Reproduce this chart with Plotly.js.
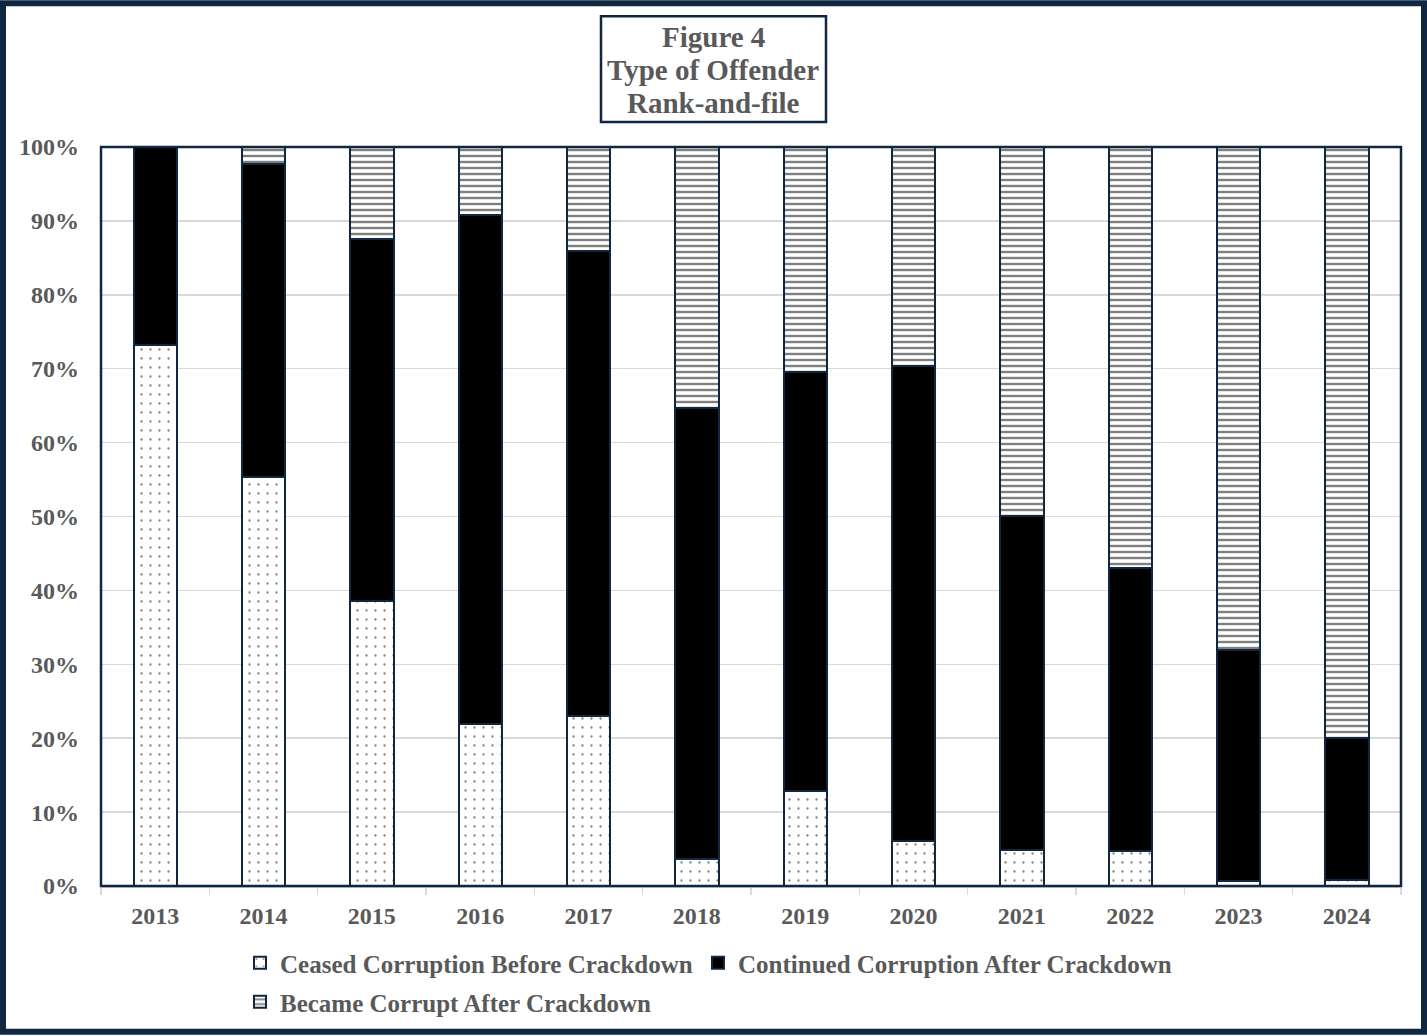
<!DOCTYPE html>
<html>
<head>
<meta charset="utf-8">
<script src="https://cdn.plot.ly/plotly-3.0.1.min.js"></script>
<style>
  html, body { margin: 0; padding: 0; background: #ffffff; }
  #chart { width: 1427px; height: 1036px; }
</style>
</head>
<body>
<div id="chart"></div>
<script>
const years = ['2013','2014','2015','2016','2017','2018','2019','2020','2021','2022','2023','2024'];
const ceased    = [0.732, 0.553, 0.386, 0.219, 0.230, 0.036, 0.128, 0.061, 0.049, 0.047, 0.007, 0.008];
const continued = [0.268, 0.424, 0.490, 0.689, 0.629, 0.611, 0.568, 0.643, 0.452, 0.383, 0.313, 0.192];
const became    = [0.000, 0.023, 0.124, 0.092, 0.141, 0.353, 0.304, 0.296, 0.499, 0.570, 0.680, 0.800];

const seriesNames = ['Ceased Corruption Before Crackdown', 'Continued Corruption After Crackdown', 'Became Corrupt After Crackdown'];
const titleLines = ['Figure 4', 'Type of Offender', 'Rank-and-file'];

const NAVY = '#0f2740';
const GRAY_TEXT = '#595959';
const FONT = 'Liberation Serif, Times New Roman, serif';

const lineStyle = { color: NAVY, width: 2 };

const traces = [
  {
    type: 'bar', x: years, y: ceased, name: seriesNames[0], legend: 'legend',
    marker: { color: '#ffffff', line: lineStyle,
      pattern: { shape: '.', fgcolor: '#000000', bgcolor: '#ffffff', size: 9, solidity: 0.05, fillmode: 'overlay' } },
    hoverinfo: 'skip'
  },
  {
    type: 'bar', x: years, y: continued, name: seriesNames[1], legend: 'legend2',
    marker: { color: '#000000', line: lineStyle },
    hoverinfo: 'skip'
  },
  {
    type: 'bar', x: years, y: became, name: seriesNames[2], legend: 'legend3',
    marker: { color: '#ffffff', line: lineStyle,
      pattern: { shape: '-', fgcolor: '#000000', bgcolor: '#ffffff', size: 6, solidity: 0.4, fillmode: 'overlay' } },
    hoverinfo: 'skip'
  }
];

// plot area in pixels: left 101, right 1401, top 147, bottom 887
const W = 1427, H = 1036, L = 101, R = 1401, T = 147, B = 887;
const px = v => (v - L) / (R - L);
const py = v => (B - v) / (B - T);

const legendFont = { family: FONT, size: 25, color: GRAY_TEXT, weight: 'bold' };
const legendBase = { orientation: 'h', font: legendFont, bgcolor: 'rgba(0,0,0,0)', xanchor: 'left', yanchor: 'middle', itemclick: false, itemdoubleclick: false };

const titleY = [37, 70, 103];
const titleAnnotations = titleLines.map((t, i) => ({
  xref: 'paper', yref: 'paper',
  x: px(713), y: py(titleY[i]), xanchor: 'center', yanchor: 'middle',
  text: t, showarrow: false,
  font: { family: FONT, size: 29, color: GRAY_TEXT, weight: 'bold' }
}));

const layout = {
  width: W, height: H,
  margin: { l: L, r: W - R, t: T, b: H - B, pad: 0 },
  paper_bgcolor: '#ffffff',
  plot_bgcolor: '#ffffff',
  barmode: 'stack',
  bargap: 0.6,
  font: { family: FONT, color: GRAY_TEXT },
  xaxis: {
    type: 'category',
    tickfont: { family: FONT, size: 24, color: GRAY_TEXT, weight: 'bold' },
    ticks: 'outside', tickson: 'boundaries', ticklen: 7, tickcolor: '#d9d9d9', tickwidth: 1.5,
    showline: true, linecolor: '#d9d9d9', linewidth: 1.5,
    showgrid: false, zeroline: false,
    ticklabelstandoff: 8
  },
  yaxis: {
    range: [0, 1], dtick: 0.1, tick0: 0, tickformat: '.0%',
    tickfont: { family: FONT, size: 24, color: GRAY_TEXT, weight: 'bold' },
    showgrid: true, gridcolor: '#d9d9d9', gridwidth: 1.5,
    zeroline: false, showline: false, ticks: '',
    ticklabelstandoff: 21
  },
  showlegend: true,
  legend:  Object.assign({}, legendBase, { x: px(240), y: py(963) }),
  legend2: Object.assign({}, legendBase, { x: px(698), y: py(963) }),
  legend3: Object.assign({}, legendBase, { x: px(240), y: py(1002) }),
  annotations: titleAnnotations,
  shapes: [
    { type: 'rect', xref: 'paper', yref: 'paper', x0: 0, x1: 1, y0: 0, y1: 1,
      line: { color: NAVY, width: 2.5 }, fillcolor: 'rgba(0,0,0,0)', layer: 'above' },
    { type: 'rect', xref: 'paper', yref: 'paper', x0: px(601), x1: px(826), y0: py(122), y1: py(16),
      line: { color: NAVY, width: 2.5 }, fillcolor: '#ffffff', layer: 'below' },
    { type: 'rect', xref: 'paper', yref: 'paper', x0: px(3), x1: px(1424), y0: py(1033), y1: py(3),
      line: { color: NAVY, width: 6 }, fillcolor: 'rgba(0,0,0,0)', layer: 'above' }
  ]
};

Plotly.newPlot('chart', traces, layout, { displayModeBar: false, staticPlot: true });
</script>
</body>
</html>
